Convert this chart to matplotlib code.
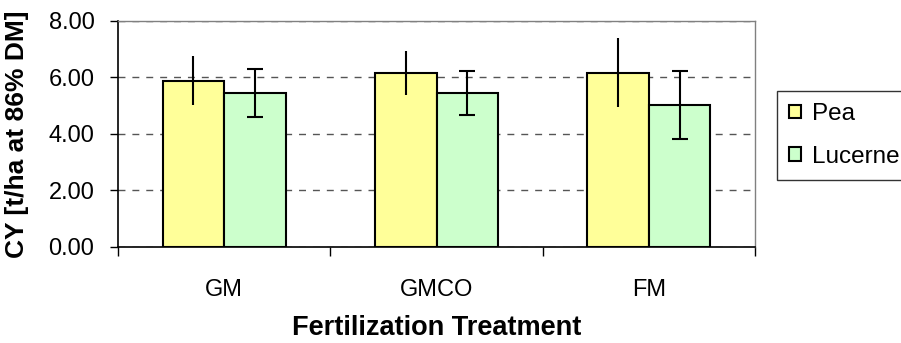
import numpy as np
import matplotlib
matplotlib.use("Agg")
import matplotlib.pyplot as plt
from matplotlib.ticker import FixedLocator, FormatStrFormatter

plt.rcParams['font.family'] = ['Liberation Sans', 'DejaVu Sans']

treatments = ['GM', 'GMCO', 'FM']
pea = [5.88, 6.16, 6.16]
pea_err = [0.87, 0.79, 1.22]
lucerne = [5.45, 5.45, 5.03]
lucerne_err = [0.85, 0.78, 1.20]

fig = plt.figure(figsize=(9.01, 3.43), dpi=100)
ax = fig.add_axes([0.131, 0.280, 0.707, 0.659])

x = np.arange(len(treatments))
w = 0.29

ax.bar(x - w / 2, pea, w, color='#FFFF99', edgecolor='black', linewidth=1.5,
       label='Pea', zorder=2)
ax.bar(x + w / 2, lucerne, w, color='#CCFFCC', edgecolor='black', linewidth=1.5,
       label='Lucerne', zorder=2)
ax.errorbar(x - w / 2, pea, yerr=pea_err, fmt='none', ecolor='black',
            elinewidth=1.5, capsize=0, zorder=3)
ax.errorbar(x + w / 2, lucerne, yerr=lucerne_err, fmt='none', ecolor='black',
            elinewidth=1.5, capsize=5.5, capthick=1.5, zorder=3)

ax.set_xlim(-0.5, 2.5)
ax.set_ylim(0, 8)
ax.set_yticks([0, 2, 4, 6, 8])
ax.yaxis.set_major_formatter(FormatStrFormatter('%.2f'))
ax.yaxis.grid(True, color='#555555', linestyle=(0, (5, 5)), linewidth=1)
ax.set_axisbelow(True)

ax.set_xticks(x)
ax.set_xticklabels(treatments)
ax.xaxis.set_minor_locator(FixedLocator([-0.5, 0.5, 1.5, 2.5]))
ax.tick_params(axis='x', which='major', length=0, pad=23, labelsize=17)
ax.tick_params(axis='x', which='minor', length=6.5, width=1, direction='out')
ax.tick_params(axis='y', length=6, width=1, direction='out', pad=11, labelsize=17)

for side in ['top', 'right']:
    ax.spines[side].set_color('#808080')
    ax.spines[side].set_linewidth(1)
for side in ['left', 'bottom']:
    ax.spines[side].set_color('black')
    ax.spines[side].set_linewidth(1.2)

ax.set_xlabel('Fertilization Treatment', fontsize=19.5, fontweight='bold', labelpad=10.5)
ax.set_ylabel('CY [t/ha at 86% DM]', fontsize=19, fontweight='bold')
ax.yaxis.set_label_coords(-0.139, 0.5)

leg = fig.legend(loc='upper left', bbox_to_anchor=(777 / 901, 1 - 91 / 343),
                 fontsize=17.5, frameon=True, fancybox=False, handlelength=0.5,
                 handleheight=0.5, handletextpad=0.45, borderpad=0.5,
                 labelspacing=0.85, borderaxespad=0)
leg.get_frame().set_edgecolor('black')
leg.get_frame().set_linewidth(1)

fig.savefig('out.png', dpi=100)
